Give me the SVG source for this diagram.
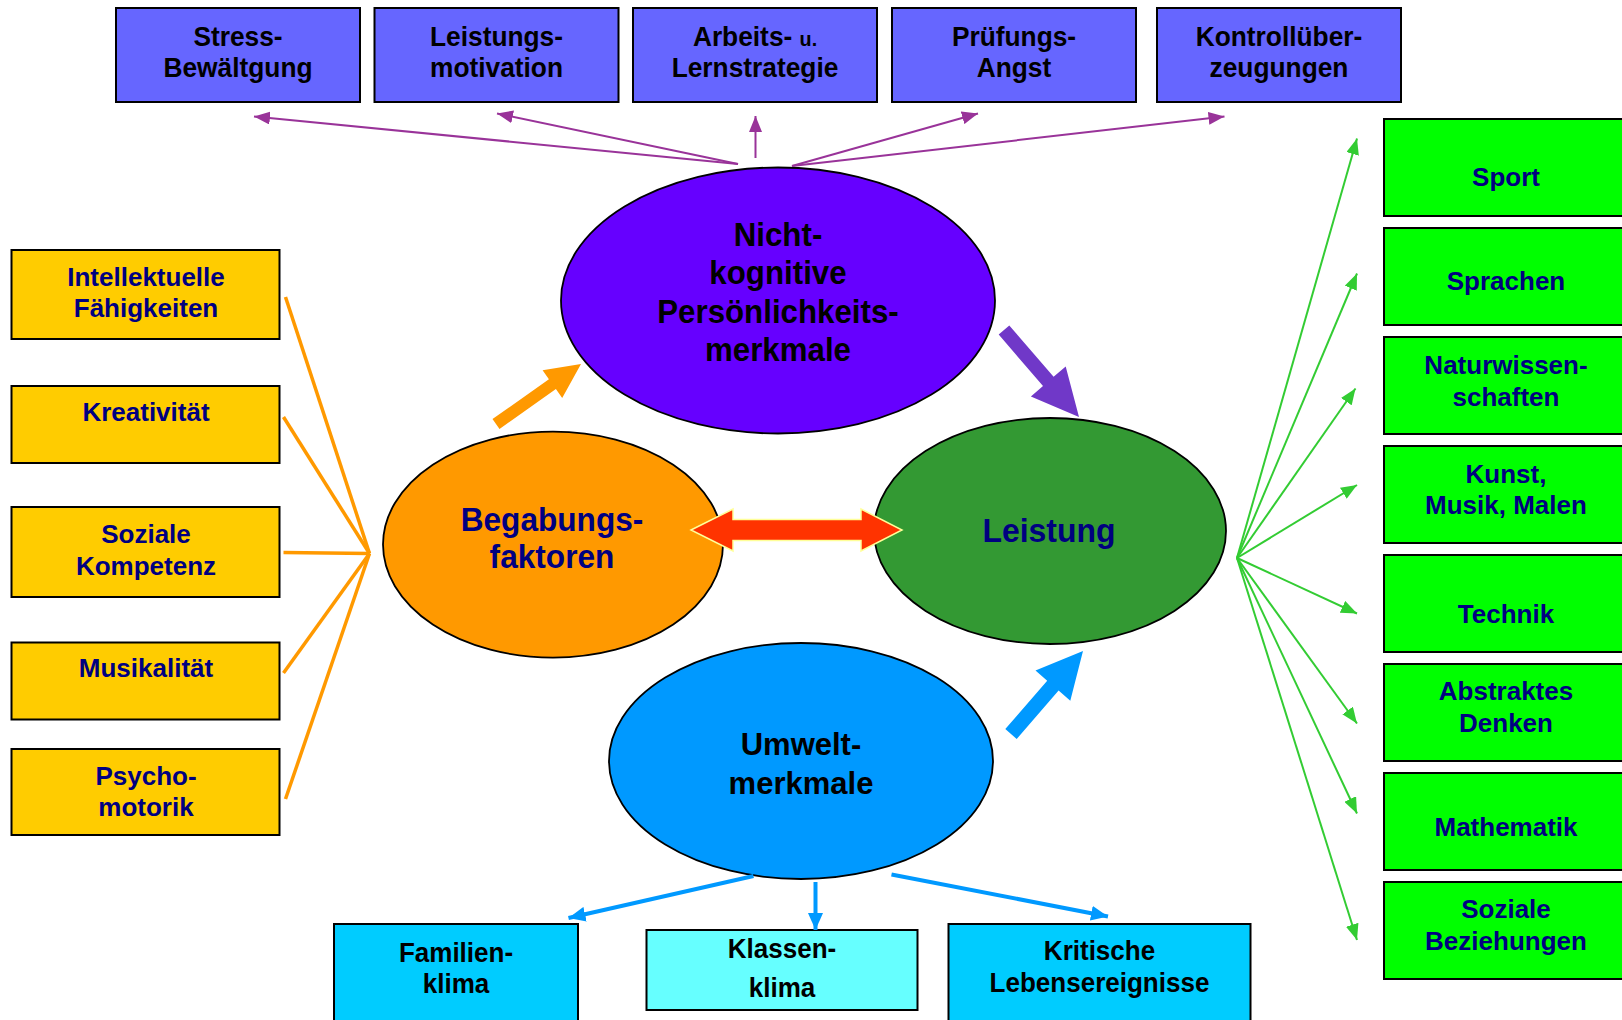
<svg xmlns="http://www.w3.org/2000/svg" width="1622" height="1020" viewBox="0 0 1622 1020">
<defs>
<style>
text{font-family:"Liberation Sans",Arial,sans-serif;font-weight:bold;text-anchor:middle}
.bx{stroke:#000;stroke-width:2}
.top{fill:#6666FF}
.yel{fill:#FFCC00}
.grn{fill:#00FF00}
.cy{fill:#00CCFF}
.cyl{fill:#66FFFF}
.t26{font-size:26px}
.t28{font-size:28px}
.t31{font-size:31px}
.t34{font-size:34px}
.blk{fill:#000}
.nav{fill:#000080}
.ell{stroke:#000;stroke-width:1.8}
.lp{stroke:#993399;stroke-width:2;fill:none}
.lg{stroke:#33CC33;stroke-width:2;fill:none}
.lo{stroke:#FF9900;stroke-width:3.5;fill:none}
.lb{stroke:#0099FF;stroke-width:4;fill:none}
</style>
<marker id="mP" markerUnits="userSpaceOnUse" markerWidth="16" markerHeight="13" refX="16" refY="6.5" orient="auto"><path d="M0,0 L16,6.5 L0,13 z" fill="#993399"/></marker>
<marker id="mG" markerUnits="userSpaceOnUse" markerWidth="16" markerHeight="13" refX="16" refY="6.5" orient="auto"><path d="M0,0 L16,6.5 L0,13 z" fill="#33CC33"/></marker>
<marker id="mB" markerUnits="userSpaceOnUse" markerWidth="17" markerHeight="15" refX="17" refY="7.5" orient="auto"><path d="M0,0 L17,7.5 L0,15 z" fill="#0099FF"/></marker>
</defs>
<rect width="1622" height="1020" fill="#fff"/>

<!-- top boxes -->
<g id="stress"><rect class="bx top" x="116" y="8" width="244" height="94"/><g transform="translate(238,0) scale(0.94,1)"><text class="t28 blk" x="0" y="46">Stress-</text><text class="t28 blk" x="0" y="77">Bewältgung</text></g></g>
<g id="leistungsmotivation"><rect class="bx top" x="374.5" y="8" width="244" height="94"/><g transform="translate(496.5,0) scale(0.94,1)"><text class="t28 blk" x="0" y="46">Leistungs-</text><text class="t28 blk" x="0" y="77">motivation</text></g></g>
<g id="arbeits"><rect class="bx top" x="633" y="8" width="244" height="94"/><g transform="translate(755,0) scale(0.94,1)"><text class="t28 blk" x="0" y="46">Arbeits- <tspan font-size="21">u.</tspan></text><text class="t28 blk" x="0" y="77">Lernstrategie</text></g></g>
<g id="pruefung"><rect class="bx top" x="892" y="8" width="244" height="94"/><g transform="translate(1014,0) scale(0.94,1)"><text class="t28 blk" x="0" y="46">Prüfungs-</text><text class="t28 blk" x="0" y="77">Angst</text></g></g>
<g id="kontroll"><rect class="bx top" x="1157" y="8" width="244" height="94"/><g transform="translate(1279,0) scale(0.94,1)"><text class="t28 blk" x="0" y="46">Kontrollüber-</text><text class="t28 blk" x="0" y="77">zeugungen</text></g></g>

<!-- left boxes -->
<g id="intellekt"><rect class="bx yel" x="11.5" y="250" width="268" height="89"/><text class="t26 nav" x="146" y="286">Intellektuelle</text><text class="t26 nav" x="146" y="317">Fähigkeiten</text></g>
<g id="kreativ"><rect class="bx yel" x="11.5" y="386" width="268" height="77"/><text class="t26 nav" x="146" y="421">Kreativität</text></g>
<g id="sozkomp"><rect class="bx yel" x="11.5" y="507" width="268" height="90"/><text class="t26 nav" x="146" y="543">Soziale</text><text class="t26 nav" x="146" y="575">Kompetenz</text></g>
<g id="musik"><rect class="bx yel" x="11.5" y="642.5" width="268" height="77"/><text class="t26 nav" x="146" y="677">Musikalität</text></g>
<g id="psycho"><rect class="bx yel" x="11.5" y="749" width="268" height="86"/><text class="t26 nav" x="146" y="785">Psycho-</text><text class="t26 nav" x="146" y="816">motorik</text></g>

<!-- right boxes -->
<g id="sport"><rect class="bx grn" x="1384" y="119" width="246" height="97"/><text class="t26 nav" x="1506" y="186">Sport</text></g>
<g id="sprachen"><rect class="bx grn" x="1384" y="228" width="246" height="97"/><text class="t26 nav" x="1506" y="290">Sprachen</text></g>
<g id="natur"><rect class="bx grn" x="1384" y="337" width="246" height="97"/><text class="t26 nav" x="1506" y="374">Naturwissen-</text><text class="t26 nav" x="1506" y="406">schaften</text></g>
<g id="kunst"><rect class="bx grn" x="1384" y="446" width="246" height="97"/><text class="t26 nav" x="1506" y="483">Kunst,</text><text class="t26 nav" x="1506" y="514">Musik, Malen</text></g>
<g id="technik"><rect class="bx grn" x="1384" y="555" width="246" height="97"/><text class="t26 nav" x="1506" y="623">Technik</text></g>
<g id="abstrakt"><rect class="bx grn" x="1384" y="664" width="246" height="97"/><text class="t26 nav" x="1506" y="700">Abstraktes</text><text class="t26 nav" x="1506" y="732">Denken</text></g>
<g id="mathe"><rect class="bx grn" x="1384" y="773" width="246" height="97"/><text class="t26 nav" x="1506" y="836">Mathematik</text></g>
<g id="sozbez"><rect class="bx grn" x="1384" y="882" width="246" height="97"/><text class="t26 nav" x="1506" y="918">Soziale</text><text class="t26 nav" x="1506" y="950">Beziehungen</text></g>

<!-- bottom boxes -->
<g id="familie"><rect class="bx cy" x="334" y="924" width="244" height="110"/><g transform="translate(456,0) scale(0.93,1)"><text class="t28 blk" x="0" y="962">Familien-</text><text class="t28 blk" x="0" y="993">klima</text></g></g>
<g id="klasse"><rect class="bx cyl" x="646.5" y="930" width="271" height="80"/><g transform="translate(782,0) scale(0.93,1)"><text class="t28 blk" x="0" y="958">Klassen-</text><text class="t28 blk" x="0" y="997">klima</text></g></g>
<g id="kritisch"><rect class="bx cy" x="948.5" y="924" width="302" height="110"/><g transform="translate(1099.5,0) scale(0.93,1)"><text class="t28 blk" x="0" y="960">Kritische</text><text class="t28 blk" x="0" y="992">Lebensereignisse</text></g></g>

<!-- ellipses -->
<g id="nichtkognitiv"><ellipse class="ell" cx="778" cy="300.5" rx="217" ry="133" fill="#6600FF"/><g transform="translate(778,0) scale(0.92,1)"><text class="t34 blk" x="0" y="246">Nicht-</text><text class="t34 blk" x="0" y="284">kognitive</text><text class="t34 blk" x="0" y="323">Persönlichkeits-</text><text class="t34 blk" x="0" y="361">merkmale</text></g></g>
<g id="begabung"><ellipse class="ell" cx="553" cy="544.6" rx="170" ry="113" fill="#FF9900"/><g transform="translate(552,0) scale(0.93,1)"><text class="t34 nav" x="0" y="531">Begabungs-</text><text class="t34 nav" x="0" y="568">faktoren</text></g></g>
<g id="leistung"><ellipse class="ell" cx="1050" cy="531" rx="176" ry="113" fill="#339933"/><g transform="translate(1049,0) scale(0.94,1)"><text class="t34 nav" x="0" y="542">Leistung</text></g></g>
<g id="umwelt"><ellipse class="ell" cx="801" cy="761" rx="192" ry="118" fill="#0099FF"/><text class="t31 blk" x="801" y="755">Umwelt-</text><text class="t31 blk" x="801" y="794">merkmale</text></g>

<!-- connectors -->
<g id="connectors">
<line class="lp" x1="738" y1="164" x2="254" y2="116.5" marker-end="url(#mP)"/>
<line class="lp" x1="738" y1="164" x2="497" y2="113.5" marker-end="url(#mP)"/>
<line class="lp" x1="755.5" y1="158" x2="755.5" y2="116" marker-end="url(#mP)"/>
<line class="lp" x1="792" y1="166" x2="978" y2="113.5" marker-end="url(#mP)"/>
<line class="lp" x1="792" y1="166" x2="1224.5" y2="116.5" marker-end="url(#mP)"/>

<line class="lo" x1="285.5" y1="297" x2="369.5" y2="553.5"/>
<line class="lo" x1="283.5" y1="417" x2="369.5" y2="553.5"/>
<line class="lo" x1="283.5" y1="552.5" x2="369.5" y2="553.5"/>
<line class="lo" x1="283.5" y1="673" x2="369.5" y2="553.5"/>
<line class="lo" x1="285.5" y1="799" x2="369.5" y2="553.5"/>

<line class="lg" x1="1237" y1="558" x2="1357" y2="138.5" marker-end="url(#mG)"/>
<line class="lg" x1="1237" y1="558" x2="1357" y2="273.5" marker-end="url(#mG)"/>
<line class="lg" x1="1237" y1="558" x2="1355.5" y2="388.5" marker-end="url(#mG)"/>
<line class="lg" x1="1237" y1="558" x2="1357" y2="485" marker-end="url(#mG)"/>
<line class="lg" x1="1237" y1="558" x2="1357" y2="613.5" marker-end="url(#mG)"/>
<line class="lg" x1="1237" y1="558" x2="1357" y2="723.5" marker-end="url(#mG)"/>
<line class="lg" x1="1237" y1="558" x2="1357" y2="813.5" marker-end="url(#mG)"/>
<line class="lg" x1="1237" y1="558" x2="1357" y2="940" marker-end="url(#mG)"/>

<line class="lb" x1="753.5" y1="876" x2="568.5" y2="918" marker-end="url(#mB)"/>
<line class="lb" x1="815.5" y1="882" x2="815.5" y2="930" marker-end="url(#mB)"/>
<line class="lb" x1="891.5" y1="874.5" x2="1108" y2="916.5" marker-end="url(#mB)"/>

<polygon points="492.5,419.1 548.9,379.3 542.6,370.3 581,364 562.2,398.1 555.9,389.1 499.5,428.9" fill="#FF9900"/>
<polygon points="1009.3,325.4 1053.6,376.8 1065.7,366.4 1079,417 1030.9,396.4 1043,386 998.7,334.6" fill="#7038C8"/>
<polygon points="1005.3,729.1 1047.2,680.8 1035.5,670.6 1083,651 1070.3,700.8 1058.6,690.6 1016.7,738.9" fill="#0099FF"/>
<polygon points="691,530 733,509 733,519.5 861,519.5 861,509 902,530 861,551 861,540.5 733,540.5 733,551" fill="#FF3300" stroke="#FFFF99" stroke-width="1.5"/>
</g>
</svg>
